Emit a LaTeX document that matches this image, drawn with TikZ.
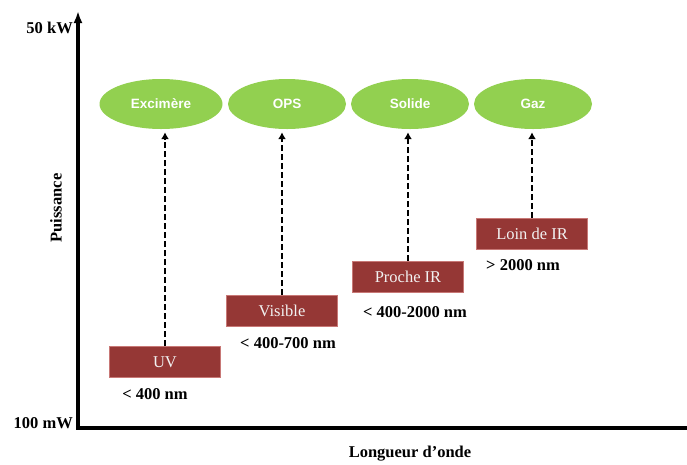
\documentclass[tikz,border=0pt]{standalone}
\usepackage{fontspec}
\setmainfont{Liberation Serif}
\newfontfamily\arialfont{Liberation Sans}
\usetikzlibrary{arrows.meta,shapes.geometric}
\definecolor{lgreen}{RGB}{146,208,80}
\definecolor{dred}{RGB}{149,55,53}
\definecolor{dredborder}{RGB}{200,120,118}
\definecolor{boxtext}{RGB}{242,242,242}
\tikzset{
  axisline/.style={line width=3.2pt, line join=miter},
  lamp/.style={ellipse, fill=lgreen, minimum width=118pt, minimum height=50pt, inner sep=0pt,
     text=white, font=\arialfont\bfseries\fontsize{13.5}{15}\selectfont},
  band/.style={rectangle, fill=dred, draw=dredborder, line width=0.6pt, minimum width=111pt, minimum height=31pt,
     inner sep=0pt, text=boxtext, font=\fontsize{16.5}{18}\selectfont},
  lbl/.style={font=\bfseries\fontsize{16.5}{18}\selectfont, inner sep=0pt},
  dasharrow/.style={line width=2.3pt, dash pattern=on 6pt off 3pt, -{Latex[length=7pt,width=8pt]}, shorten >=3pt}
}
\begin{document}
\begin{tikzpicture}[x=1pt,y=-1pt]
\useasboundingbox (0,0) rectangle (687,464);
\coordinate (top) at (78,11);
\coordinate (orig) at (78,428);
\coordinate (xend) at (687,428);
\draw[axisline,{Latex[length=12pt,width=9pt]}-] (top) -- (orig) -- (xend);

\node[lbl, anchor=east] (kw) at (73,28) {50 kW};
\node[lbl, anchor=east] (mw) at (73,423) {100 mW};
\node[lbl, rotate=90] (puis) at (56,208) {Puissance};
\node[lbl] (lo) at (410,454) {Longueur d’onde};

\node[lamp, minimum width=123pt] (exc) at (161,104) {Excimère};
\node[lamp] (ops) at (287,104) {OPS};
\node[lamp] (sol) at (410,104) {Solide};
\node[lamp] (gaz) at (533,104) {Gaz};

\node[band] (uv) at (165,362) {UV};
\node[band] (vis) at (282,311) {Visible};
\node[band] (pir) at (408,277) {Proche IR};
\node[band] (lir) at (532,234) {Loin de IR};

\node[lbl] (l1) at (155,394) {< 400 nm};
\node[lbl] (l2) at (288,343) {< 400-700 nm};
\node[lbl] (l3) at (415,312) {< 400-2000 nm};
\node[lbl] (l4) at (523,265) {> 2000 nm};

\draw[dasharrow] (uv.north) -- (uv.north |- exc.south);
\draw[dasharrow] (vis.north) -- (vis.north |- ops.south);
\draw[dasharrow] (pir.north) -- (pir.north |- sol.south);
\draw[dasharrow] (lir.north) -- (lir.north |- gaz.south);
\end{tikzpicture}
\end{document}
